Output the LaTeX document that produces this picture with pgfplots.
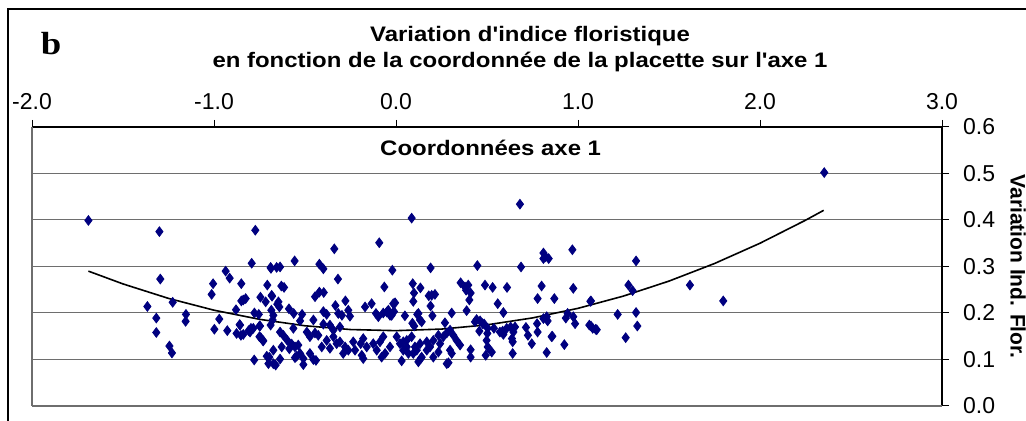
\documentclass[border=0pt]{standalone}
\usepackage{fontspec}
\setmainfont{Liberation Sans}[Ligatures=TeXOff]
\newfontfamily\timesfont{Liberation Serif}
\usepackage{pgfplots}
\usepackage{pgfplotstable}
\pgfplotsset{compat=1.18}
\definecolor{navy}{RGB}{0,0,128}
\definecolor{gridc}{RGB}{110,110,110}

\pgfplotstableread{
x y
-1.69 0.399
-1.30 0.375
-1.295 0.273
-1.366 0.214
-1.317 0.189
-1.317 0.158
-1.245 0.129
-1.231 0.114
-1.227 0.223
-1.154 0.197
-1.156 0.182
-1.005 0.263
-1.013 0.240
-0.971 0.187
-0.998 0.165
-0.936 0.290
-0.914 0.275
-0.927 0.162
-0.879 0.207
-0.859 0.175
-0.876 0.156
-0.852 0.152
-0.850 0.263
-0.850 0.226
-0.826 0.231
-0.839 0.228
-0.857 0.174
-0.839 0.154
-0.802 0.159
-0.784 0.167
-0.810 0.162
-0.797 0.167
-0.793 0.307
-0.773 0.378
-0.778 0.200
-0.754 0.197
-0.750 0.172
-0.750 0.149
-0.732 0.141
-0.745 0.234
-0.716 0.224
-0.707 0.260
-0.779 0.099
-0.710 0.107
-0.701 0.091
-0.747 0.172
-0.743 0.147
-0.729 0.140
-0.689 0.298
-0.656 0.298
-0.687 0.296
-0.637 0.299
-0.630 0.258
-0.615 0.255
-0.683 0.238
-0.681 0.236
-0.652 0.219
-0.641 0.213
-0.646 0.224
-0.685 0.206
-0.674 0.195
-0.689 0.174
-0.678 0.185
-0.637 0.159
-0.619 0.152
-0.597 0.141
-0.573 0.133
-0.628 0.127
-0.586 0.123
-0.555 0.127
-0.674 0.120
-0.696 0.105
-0.674 0.091
-0.661 0.088
-0.637 0.101
-0.588 0.209
-0.557 0.312
-0.562 0.199
-0.516 0.197
-0.527 0.183
-0.564 0.167
-0.537 0.131
-0.527 0.113
-0.509 0.089
-0.546 0.107
-0.509 0.102
-0.555 0.104
-0.490 0.159
-0.473 0.149
-0.445 0.157
-0.427 0.152
-0.473 0.113
-0.454 0.100
-0.440 0.098
-0.454 0.185
-0.421 0.305
-0.399 0.295
-0.421 0.245
-0.397 0.244
-0.445 0.235
-0.399 0.203
-0.381 0.197
-0.408 0.127
-0.381 0.141
-0.363 0.124
-0.399 0.176
-0.363 0.174
-0.344 0.163
-0.308 0.170
-0.339 0.338
-0.319 0.273
-0.333 0.216
-0.278 0.226
-0.317 0.199
-0.297 0.195
-0.262 0.206
-0.253 0.193
-0.344 0.149
-0.326 0.134
-0.308 0.138
-0.280 0.127
-0.262 0.120
-0.290 0.113
-0.235 0.138
-0.225 0.120
-0.194 0.134
-0.180 0.145
-0.161 0.127
-0.188 0.109
-0.180 0.102
-0.170 0.213
-0.134 0.220
-0.125 0.134
-0.106 0.120
-0.088 0.138
-0.070 0.149
-0.079 0.105
-0.060 0.113
-0.033 0.127
-0.092 0.351
-0.064 0.256
-0.110 0.199
-0.097 0.192
-0.070 0.200
-0.042 0.206
-0.033 0.195
-0.011 0.203
-0.020 0.292
-0.015 0.220
-0.005 0.222
-0.051 0.202
-0.024 0.195
0.004 0.149
0.022 0.134
0.040 0.120
0.031 0.097
0.059 0.141
0.086 0.149
0.104 0.127
0.123 0.095
0.141 0.105
0.169 0.120
0.040 0.138
0.059 0.127
0.068 0.113
0.086 0.404
0.092 0.263
0.134 0.254
0.180 0.237
0.095 0.225
0.099 0.243
0.123 0.199
0.132 0.185
0.090 0.178
0.100 0.172
0.049 0.194
0.117 0.197
0.141 0.181
0.190 0.297
0.196 0.238
0.214 0.240
0.190 0.215
0.200 0.194
0.205 0.141
0.233 0.152
0.242 0.134
0.187 0.127
0.169 0.138
0.132 0.134
0.114 0.120
0.095 0.113
0.136 0.102
0.205 0.105
0.233 0.116
0.279 0.091
0.297 0.120
0.306 0.113
0.288 0.093
0.297 0.163
0.315 0.152
0.260 0.149
0.279 0.157
0.333 0.141
0.352 0.131
0.306 0.200
0.269 0.179
0.355 0.265
0.379 0.256
0.397 0.260
0.385 0.249
0.410 0.243
0.403 0.228
0.388 0.205
0.410 0.121
0.410 0.105
0.458 0.161
0.443 0.186
0.434 0.181
0.476 0.177
0.462 0.183
0.447 0.302
0.489 0.260
0.531 0.255
0.610 0.255
0.559 0.220
0.590 0.201
0.504 0.167
0.538 0.167
0.586 0.161
0.608 0.167
0.630 0.170
0.654 0.170
0.485 0.176
0.502 0.156
0.498 0.141
0.504 0.127
0.526 0.116
0.493 0.109
0.571 0.159
0.590 0.154
0.645 0.159
0.637 0.145
0.641 0.138
0.641 0.113
0.681 0.434
0.687 0.299
0.714 0.169
0.725 0.152
0.746 0.134
0.775 0.177
0.778 0.159
0.810 0.188
0.828 0.192
0.833 0.183
0.855 0.149
0.828 0.115
0.859 0.150
0.925 0.132
0.810 0.329
0.822 0.321
0.839 0.317
0.810 0.317
0.969 0.336
0.800 0.258
0.778 0.231
0.870 0.231
0.974 0.253
1.068 0.225
0.933 0.189
0.943 0.199
0.974 0.192
0.984 0.177
1.062 0.174
1.081 0.167
1.103 0.164
1.071 0.226
1.071 0.172
1.097 0.165
1.218 0.197
1.262 0.147
1.277 0.260
1.300 0.248
1.319 0.312
1.319 0.201
1.326 0.172
1.615 0.260
1.798 0.226
2.353 0.502
}\pts

\begin{document}
\begin{tikzpicture}
\useasboundingbox (0,0) rectangle (513pt,210.5pt);
\draw[black, line width=0.6pt] (4pt,0) -- (4pt,206pt) -- (513pt,206pt);
\node[anchor=base, font=\fontsize{16}{16}\selectfont\timesfont\bfseries, xscale=1.15, inner sep=0pt] at (25.5pt,183pt) {b};
\node[anchor=base, font=\fontsize{10.5}{12}\selectfont\bfseries, xscale=1.14, inner sep=0pt] at (265pt,189.7pt) {Variation d'indice floristique};
\node[anchor=base, font=\fontsize{10.5}{12}\selectfont\bfseries, xscale=1.14, inner sep=0pt] at (260pt,176.5pt) {en fonction de la coordonnée de la placette sur l'axe 1};
\begin{axis}[
  at={(16pt,7.5pt)}, anchor=south west,
  scale only axis, width=455pt, height=139.5pt,
  xmin=-2, xmax=3, ymin=0, ymax=0.6,
  axis x line*=top, axis y line*=right,
  axis line style={black, line width=0.6pt},
  xtick={-2,-1,0,1,2,3}, ytick={0,0.1,0.2,0.3,0.4,0.5,0.6},
  tick align=outside, major tick length=3.5pt,
  tick style={black, line width=0.5pt},
  ymajorgrids, grid style={gridc, line width=0.5pt},
  scaled ticks=false,
  xticklabel style={font=\fontsize{11.5}{12}\selectfont, yshift=1.5pt, /pgf/number format/fixed, /pgf/number format/fixed zerofill, /pgf/number format/precision=1, /pgf/number format/assume math mode=true},
  yticklabel style={font=\fontsize{11.5}{12}\selectfont, xshift=3.5pt, /pgf/number format/fixed, /pgf/number format/fixed zerofill, /pgf/number format/precision=1, /pgf/number format/assume math mode=true},
  clip=false,
]
\draw[gridc, line width=0.6pt] (rel axis cs:0,0) -- (rel axis cs:0,1);
\draw[gridc, line width=0.6pt] (rel axis cs:0,0) -- (rel axis cs:1,0);
\addplot[only marks, mark=diamond*, mark size=2.4pt, color=navy, mark options={draw=navy, fill=navy}] table {\pts};
\addplot[black, line width=0.8pt, mark=none] coordinates {
(-1.69,0.290) (-1.5,0.2625) (-1.25,0.2314) (-1.0,0.206) (-0.75,0.1864) (-0.5,0.1725) (-0.25,0.1644) (0,0.162) (0.25,0.1654) (0.5,0.1745) (0.75,0.1894) (1.0,0.210) (1.25,0.2364) (1.5,0.2686) (1.75,0.3064) (2.0,0.350) (2.25,0.3995) (2.35,0.4208)};
\node[font=\fontsize{10.5}{12}\selectfont\bfseries, xscale=1.14] at (rel axis cs:0.504,0.925) {Coordonnées axe 1};
\end{axis}
\node[rotate=-90, font=\fontsize{10.5}{12}\selectfont\bfseries, inner sep=0pt] at (509pt,77.25pt) {Variation Ind. Flor.};
\end{tikzpicture}
\end{document}
